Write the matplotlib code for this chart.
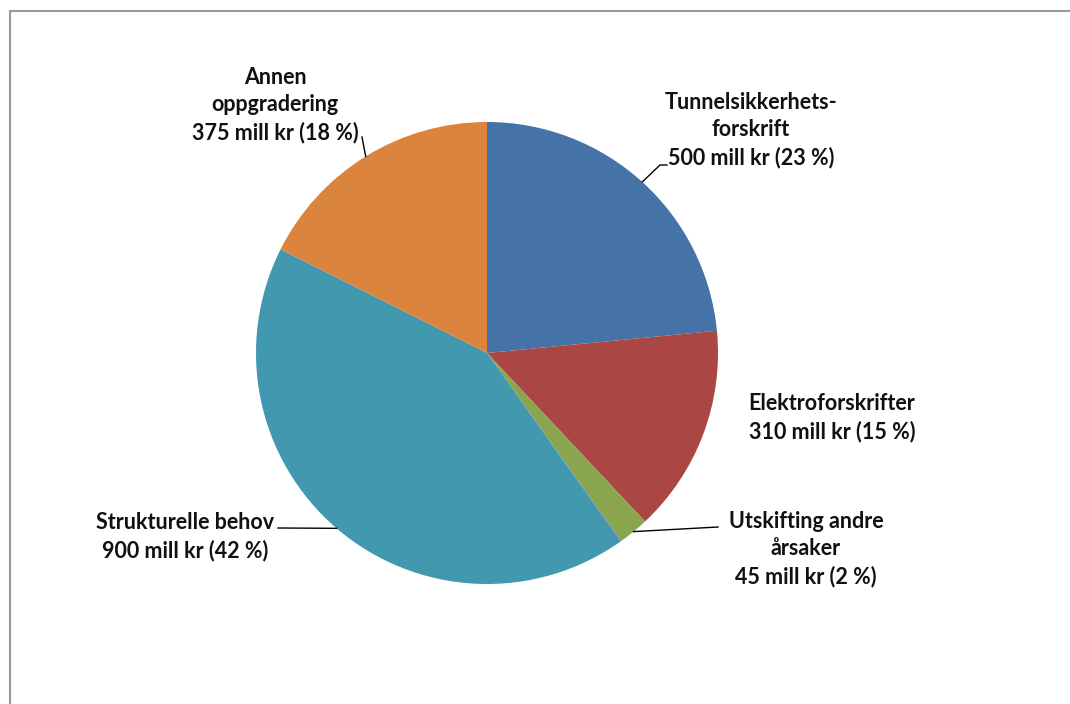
import matplotlib
matplotlib.use("Agg")
import matplotlib.pyplot as plt
import matplotlib.patches as patches
import numpy as np

# investeringsbehov fordelt på årsak (mill kr)
categories = ["Tunnelsikkerhets-\nforskrift", "Elektroforskrifter", "Utskifting andre\nårsaker",
              "", "Strukturelle behov", "Annen\noppgradering"]
values = [500, 310, 45, 1, 900, 375]
colors = ["#4572A7", "#AA4643", "#89A54E", "#80699B", "#4198AF", "#DB843D"]

# label centre (pixels) and leader line end per slice; None = no label / no leader
label_pos = [(751, 130), (832, 418), (806, 549), None, (185, 537), (275, 105)]
leader_pts = [[(660, 165), (667, 165)], None, [(718, 527)], None, [(278, 528)], [(362, 137)]]

W, H = 1070, 704
cx, cy, r = 487, 353, 231


def to_data(px, py):
    return (px - cx) / r, (cy - py) / r


fig = plt.figure(figsize=(W / 100, H / 100), dpi=100)
fig.patch.set_facecolor("white")

# outer chart frame (right and bottom edges fall outside the image)
fig.add_artist(patches.Rectangle((10 / W, -0.05), 1.2, (H - 11) / H + 0.05,
                                 transform=fig.transFigure, fill=False,
                                 edgecolor="#9a9a9a", linewidth=1.5))

ax = fig.add_axes([0, 0, 1, 1])
wedges, _ = ax.pie(values, colors=colors, startangle=90, counterclock=False,
                   radius=1, wedgeprops=dict(linewidth=0))
ax.set_xlim(-cx / r, (W - cx) / r)
ax.set_ylim(-(H - cy) / r, cy / r)
ax.set_aspect("auto")
ax.axis("off")

total = sum(values)
for i, w in enumerate(wedges):
    if label_pos[i] is None:
        continue
    pct = round(values[i] / total * 100)
    txt = "%s\n%d mill kr (%d %%)" % (categories[i], values[i], pct)
    tx, ty = to_data(*label_pos[i])
    ax.text(tx, ty, txt, ha="center", va="center", fontsize=15.5, fontweight="bold",
            family="Lato", linespacing=1.38, color="#111111")
    if leader_pts[i] is not None:
        mid = np.deg2rad((w.theta1 + w.theta2) / 2)
        xs = [np.cos(mid)] + [to_data(*p)[0] for p in leader_pts[i]]
        ys = [np.sin(mid)] + [to_data(*p)[1] for p in leader_pts[i]]
        ax.plot(xs, ys, color="black", linewidth=1)

fig.savefig("out.png", dpi=100)
